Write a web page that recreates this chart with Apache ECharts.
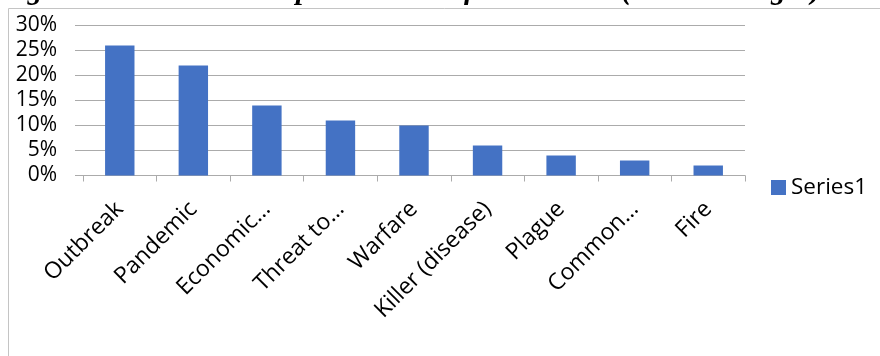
<!DOCTYPE html>
<html>
<head>
<meta charset="utf-8">
<script src="https://cdn.jsdelivr.net/npm/echarts@6/dist/echarts.min.js"></script>
<style>
  html, body { margin: 0; padding: 0; background: #fff; }
  #chart { width: 880px; height: 356px; }
</style>
</head>
<body>
<div id="chart"></div>
<script>
const categories = ["Outbreak", "Pandemic", "Economic…", "Threat to…", "Warfare", "Killer (disease)", "Plague", "Common…", "Fire"];
const series1 = [26, 22, 14, 11, 10, 6, 4, 3, 2];
const yTicks = { min: 0, max: 30, step: 5 };
const captionText = "Figure 4: Words most representative of COVID-19 (in Percentages)";

const labelFont = "'Open Sans', Lato, sans-serif";
const gridColor = "#ababab";

const chart = echarts.init(document.getElementById("chart"));

chart.setOption({
  animation: false,
  graphic: [
    {
      type: "rect",
      shape: { x: 8.5, y: 8.5, width: 1000, height: 1000 },
      style: { fill: "none", stroke: "#c4c4c4", lineWidth: 1 },
      silent: true,
    },
    {
      type: "text",
      left: 0,
      top: -24,
      style: {
        text: captionText,
        font: "italic bold 29.5px 'Liberation Serif', serif",
        fill: "#000",
      },
      silent: true,
    },
  ],
  grid: { left: 83, right: 135, top: 25.5, bottom: 180.5 },
  legend: {
    data: ["Series1"],
    left: 766,
    top: 171,
    itemWidth: 15,
    itemHeight: 15,
    itemGap: 6,
    icon: "rect",
    textStyle: { fontFamily: labelFont, fontSize: 22.5, color: "#000" },
  },
  xAxis: {
    type: "category",
    data: categories,
    axisLine: { show: true, lineStyle: { color: gridColor, width: 1 } },
    axisTick: { show: true, interval: 0, length: 6, lineStyle: { color: gridColor } },
    axisLabel: {
      interval: 0,
      rotate: 45,
      margin: 30,
      fontFamily: labelFont,
      fontSize: 23,
      color: "#000",
    },
  },
  yAxis: {
    type: "value",
    min: yTicks.min,
    max: yTicks.max,
    interval: yTicks.step,
    axisLine: { show: false },
    axisTick: { show: true, length: 8, lineStyle: { color: gridColor } },
    splitLine: { lineStyle: { color: gridColor, width: 1 } },
    axisLabel: {
      formatter: "{value}%",
      margin: 26,
      fontFamily: labelFont,
      fontSize: 21,
      color: "#000",
    },
  },
  series: [
    {
      name: "Series1",
      type: "bar",
      data: series1,
      barWidth: "40%",
      itemStyle: { color: "#4472C4" },
    },
  ],
});
</script>
</body>
</html>
